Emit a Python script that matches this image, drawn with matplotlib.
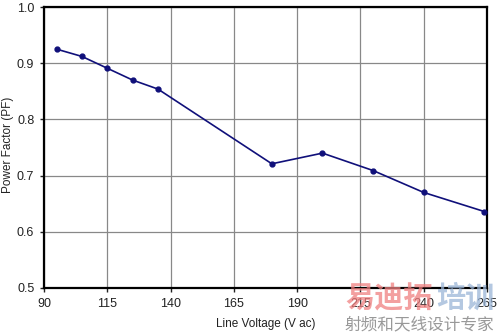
import matplotlib
matplotlib.use("Agg")
import matplotlib.pyplot as plt

voltage = [95, 105, 115, 125, 135, 180, 200, 220, 240, 264]
pf = [0.925, 0.912, 0.891, 0.870, 0.854, 0.721, 0.740, 0.709, 0.670, 0.636]
xticks = [90, 115, 140, 165, 190, 215, 240, 265]
yticks = [0.5, 0.6, 0.7, 0.8, 0.9, 1.0]

plt.rcParams['font.family'] = ['Liberation Sans', 'Noto Sans CJK SC', 'DejaVu Sans']

fig = plt.figure(figsize=(5, 3.36), dpi=100)
ax = fig.add_axes([44/500, 1-288/336, (487-44)/500, (288-7)/336])
ax.plot(voltage, pf, color='#10107a', lw=1.2, marker='o', ms=3.5, zorder=3)
ax.set_xlim(90, 265)
ax.set_ylim(0.5, 1.0)
ax.set_xticks(xticks)
ax.set_yticks(yticks)
ax.set_yticklabels([f"{v:.1f}" for v in yticks])
ax.grid(True, color='#888888', lw=0.9)
for s in ax.spines.values():
    s.set_linewidth(1.6)
    s.set_color('black')
ax.tick_params(labelsize=9, length=3, width=1, pad=4, colors='#222222')
ax.set_xlabel('Line Voltage (V ac)', fontsize=8.5, color='#222222', labelpad=6)
fig.text(8/500, 1-145/336, 'Power Factor (PF)', fontsize=8.5, color='#222222',
         rotation=90, ha='center', va='center')

fig.text(345/500, 1-299/336, '易迪拓', color='#f08080', fontsize=21, fontweight='bold',
         alpha=0.75, va='center', ha='left', zorder=5)
fig.text(436/500, 1-299/336, '培训', color='#9bb6d8', fontsize=21, fontweight='bold',
         alpha=0.75, va='center', ha='left', zorder=5)
fig.text(345/500, 1-325/336, '射频和天线设计专家', color='#999999', fontsize=12,
         va='center', ha='left')

fig.savefig('out.png', dpi=100)
